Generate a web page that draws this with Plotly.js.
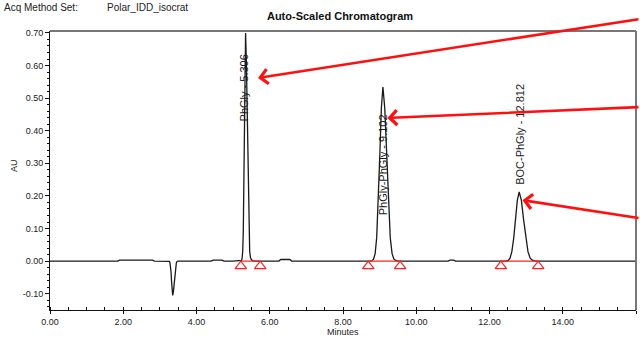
<!DOCTYPE html>
<html>
<head>
<meta charset="utf-8">
<script src="https://cdn.plot.ly/plotly-3.0.1.min.js"></script>
<style>html,body{margin:0;padding:0;background:#fff;}#chart{width:640px;height:338px;}</style>
</head>
<body>
<div id="chart"></div>
<script>
// ---- data ----
const timeMin = [0.00, 0.50, 1.85, 1.90, 2.80, 2.85, 3.24, 3.26, 3.275, 3.29, 3.305, 3.32, 3.335, 3.35, 3.37, 3.39, 3.41, 3.43, 3.45, 3.47, 3.50,
  4.40, 4.45, 4.70, 4.75, 5.00, 5.20, 5.23, 5.245, 5.262, 5.278, 5.294, 5.310, 5.326, 5.340, 5.362, 5.385, 5.408, 5.430, 5.452, 5.475, 5.50, 5.55, 5.60,
  6.25, 6.30, 6.55, 6.60, 8.75, 8.79, 8.835, 8.8775, 8.92, 8.9625, 9.005, 9.0475, 9.09, 9.14, 9.19, 9.24, 9.29, 9.34, 9.39, 9.44, 9.50,
  10.87, 10.92, 11.02, 11.07, 12.45, 12.51, 12.56, 12.61, 12.66, 12.71, 12.76, 12.81, 12.87, 12.93, 12.99, 13.05, 13.11, 13.17, 13.25, 16.00];
const signalAU = [0.000, 0.000, 0.000, 0.003, 0.003, 0.000, 0.000, -0.001, -0.005, -0.014, -0.034, -0.064, -0.093, -0.105, -0.093, -0.064, -0.034, -0.014, -0.005, -0.001, 0.000,
  0.000, 0.003, 0.003, 0.000, 0.000, 0.000, 0.002, 0.008, 0.030, 0.093, 0.224, 0.418, 0.609, 0.700, 0.609, 0.418, 0.224, 0.093, 0.030, 0.010, 0.004, 0.001, 0.000,
  0.000, 0.005, 0.005, 0.000, 0.000, 0.001, 0.006, 0.023, 0.072, 0.173, 0.323, 0.470, 0.534, 0.470, 0.323, 0.173, 0.072, 0.023, 0.006, 0.002, 0.000,
  0.000, 0.003, 0.003, 0.000, 0.000, 0.002, 0.009, 0.029, 0.069, 0.128, 0.187, 0.212, 0.187, 0.128, 0.069, 0.029, 0.009, 0.003, 0.000, 0.000];

const peakNames = ['PhGly', 'PhGly-PhGly', 'BOC-PhGly'];
const retentionTimes = [5.306, 9.102, 12.812];
const integrationStart = [5.21, 8.69, 12.31];
const integrationEnd = [5.74, 9.56, 13.33];
const baselineAU = [0, 0, 0];

const xTickVals = [0, 2, 4, 6, 8, 10, 12, 14, 16];
const xTickText = ['0.00', '2.00', '4.00', '6.00', '8.00', '10.00', '12.00', '14.00', '16.00'];
const yTickVals = [-0.1, 0, 0.1, 0.2, 0.3, 0.4, 0.5, 0.6, 0.7];
const yTickText = ['-0.10', '0.00', '0.10', '0.20', '0.30', '0.40', '0.50', '0.60', '0.70'];

// ---- layout constants ----
const W = 640, H = 338;
const M = {l: 50, r: 4, t: 31, b: 28};
const yRange = [-0.150, 0.706];
const plotH = H - M.t - M.b;
const auPerPx = (yRange[1] - yRange[0]) / plotH;
const markerDrop = -5 * auPerPx;           // triangles sit just under the baseline
const labelBottoms = [0.422, 0.134, 0.227];
const px2paperX = px => (px - M.l) / (W - M.l - M.r);
const px2paperY = py => (H - M.b - py) / plotH;

const tickFont = {family: 'Liberation Sans Narrow, Arial Narrow, Liberation Sans, Arial, sans-serif', size: 9, color: '#1a1a1a'};

// integration baselines (red) built from start / end arrays
const blX = [], blY = [];
integrationStart.forEach((s, i) => { blX.push(s, integrationEnd[i], null); blY.push(baselineAU[i], baselineAU[i], null); });
const mkX = [], mkY = [];
integrationStart.forEach((s, i) => { mkX.push(s, integrationEnd[i]); mkY.push(baselineAU[i] + markerDrop, baselineAU[i] + markerDrop); });

const traces = [
  {x: timeMin, y: signalAU, type: 'scatter', mode: 'lines', line: {color: '#1a1a1a', width: 1.3}, hoverinfo: 'skip'},
  {x: blX, y: blY, type: 'scatter', mode: 'lines', line: {color: '#ff2020', width: 1.2}, connectgaps: false, hoverinfo: 'skip'},
  {x: mkX, y: mkY, type: 'scatter', mode: 'markers', cliponaxis: false,
   marker: {symbol: 'triangle-up-open', size: 10, color: '#ff2020', line: {color: '#ff2020', width: 1.2}}, hoverinfo: 'skip'}
];

const annotations = [];
peakNames.forEach((n, i) => {
  annotations.push({x: retentionTimes[i], y: labelBottoms[i], xref: 'x', yref: 'y', text: n + ' - ' + retentionTimes[i].toFixed(3),
    textangle: -90, showarrow: false, xanchor: 'center', yanchor: 'bottom',
    font: {family: 'Liberation Sans, Arial, sans-serif', size: 11, color: '#1a1a1a'}});
});
// red pointer arrows coming from the right edge
const arrows = [
  {x: 5.68, y: 0.562, ax: 382, ay: -59},
  {x: 9.21, y: 0.439, ax: 253, ay: -11},
  {x: 12.90, y: 0.187, ax: 118, ay: 18}
];
arrows.forEach(a => annotations.push({x: a.x, y: a.y, xref: 'x', yref: 'y', ax: a.ax, ay: a.ay, axref: 'pixel', ayref: 'pixel',
  text: '', showarrow: true, arrowhead: 4, arrowsize: 1.1, arrowwidth: 2.6, arrowcolor: '#ff1010', standoff: 0}));
// header text
annotations.push({xref: 'paper', yref: 'paper', x: px2paperX(2), y: px2paperY(7), xanchor: 'left', yanchor: 'middle', showarrow: false,
  text: 'Acq Method Set:', font: {family: 'Liberation Sans Narrow, Arial Narrow, Liberation Sans, sans-serif', size: 10, color: '#222'}});
annotations.push({xref: 'paper', yref: 'paper', x: px2paperX(105), y: px2paperY(7), xanchor: 'left', yanchor: 'middle', showarrow: false,
  text: 'Polar_IDD_isocrat', font: {family: 'Liberation Sans Narrow, Arial Narrow, Liberation Sans, sans-serif', size: 10, color: '#222'}});
// axis titles
annotations.push({xref: 'paper', yref: 'paper', x: px2paperX(14), y: px2paperY(166), xanchor: 'center', yanchor: 'middle', showarrow: false,
  textangle: -90, text: 'AU', font: {family: tickFont.family, size: 9, color: '#222'}});
annotations.push({xref: 'paper', yref: 'paper', x: px2paperX(343), y: px2paperY(338), xanchor: 'center', yanchor: 'bottom', showarrow: false,
  text: 'Minutes', font: {family: tickFont.family, size: 9, color: '#222'}, borderpad: 0});

const layout = {
  width: W, height: H, margin: M, paper_bgcolor: '#fff', plot_bgcolor: '#fff', showlegend: false,
  title: {text: '<b>Auto-Scaled Chromatogram</b>', x: px2paperX(340), xref: 'paper', xanchor: 'center', y: 1 - 16 / H, yanchor: 'middle',
    font: {family: 'Liberation Sans, Arial, sans-serif', size: 11, color: '#111'}},
  xaxis: {range: [0, 16], tickvals: xTickVals, ticktext: xTickText, tickfont: tickFont, showgrid: false, zeroline: false,
    showline: true, linecolor: '#111', linewidth: 1, ticks: 'outside', ticklen: 3, tickcolor: '#111',
    minor: {dtick: 0.5, ticks: 'inside', ticklen: 3, tickcolor: '#111', showgrid: false}},
  yaxis: {range: yRange, tickvals: yTickVals, ticktext: yTickText, tickfont: tickFont, showgrid: false, zeroline: false,
    showline: true, linecolor: '#111', linewidth: 1, ticks: 'outside', ticklen: 4, tickcolor: '#111',
    minor: {dtick: 0.02, ticks: 'outside', ticklen: 2, tickcolor: '#111', showgrid: false}},
  shapes: [
    {type: 'line', xref: 'paper', yref: 'paper', x0: 0, x1: 1, y0: 1, y1: 1, line: {color: '#777', width: 2}},
    {type: 'line', xref: 'paper', yref: 'paper', x0: 1, x1: 1, y0: 0, y1: 1, line: {color: '#777', width: 2}}
  ],
  annotations: annotations
};

Plotly.newPlot('chart', traces, layout, {displayModeBar: false, staticPlot: true});
</script>
</body>
</html>
